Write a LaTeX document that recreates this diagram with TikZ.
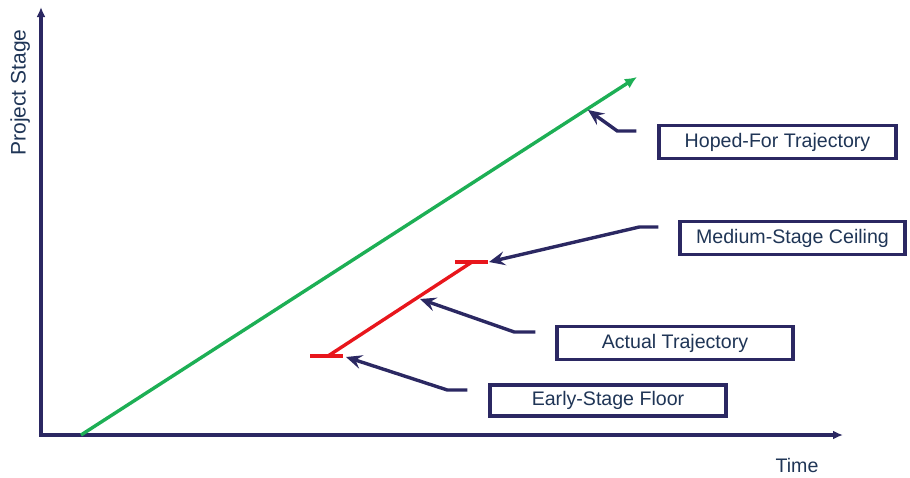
\documentclass[tikz,border=0pt]{standalone}
\usepackage{fontspec}
\setmainfont{Liberation Sans}
\usetikzlibrary{arrows.meta,calc}
\definecolor{navy}{HTML}{2B2862}
\definecolor{labeltext}{HTML}{1F3556}
\definecolor{hopegreen}{HTML}{1DAF55}
\definecolor{actualred}{HTML}{E8161C}

\begin{document}
\begin{tikzpicture}[x=1pt,y=-1pt,
  axis/.style={navy, line width=3.2pt, line join=miter},
  labelbox/.style={draw=navy, line width=3.4pt, fill=white, text=labeltext,
    font=\fontsize{19.6}{22}\selectfont, minimum height=33pt, inner sep=0pt},
  axislabel/.style={text=labeltext, inner sep=0pt},
  pointer/.style={navy, line width=3.4pt, line join=miter,
    -{Stealth[length=16pt,width=14pt,inset=6pt]}},
  trend/.style={line width=3.4pt}
]
\useasboundingbox (0,0) rectangle (910,477);

% axes
\coordinate (origin) at (41,435);
\coordinate (ytip) at (41,7);
\coordinate (xtip) at (843,435);
\draw[axis, {Latex[length=10pt,width=9pt]}-{Latex[length=10pt,width=9pt]}]
  (ytip) -- (origin) -- (xtip);
\node[axislabel, rotate=90, anchor=base, font=\fontsize{21}{24}\selectfont] (ylab) at (25.5,92.5) {Project Stage};
\node[axislabel, font=\fontsize{19.6}{22}\selectfont] (xlab) at (797,465) {Time};

% hoped-for trajectory
\coordinate (gstart) at (81,435);
\coordinate (gend) at (637,77);
\draw[trend, hopegreen, -{Latex[length=12pt,width=11pt]}] (gstart) -- (gend);

% actual trajectory with floor and ceiling
\coordinate (floorL) at (310,356);
\coordinate (floorR) at (343,356);
\coordinate (diagA) at (328,356);
\coordinate (diagB) at (472,262);
\coordinate (ceilL) at (455,262);
\coordinate (ceilR) at (488,262);
\draw[trend, actualred] (floorL) -- (floorR);
\draw[trend, actualred] (diagA) -- (diagB);
\draw[trend, actualred] (ceilL) -- (ceilR);

% label boxes
\node[labelbox, minimum width=237pt] (hoped) at (777.5,142) {Hoped-For Trajectory};
\node[labelbox, minimum width=225pt, minimum height=33pt] (medium) at (792.5,238) {Medium-Stage Ceiling};
\node[labelbox, minimum width=236pt, minimum height=33pt] (actual) at (675,343) {Actual Trajectory};
\node[labelbox, minimum width=236pt, minimum height=31pt] (early) at (608,400.5) {Early-Stage Floor};

% pointer targets
\coordinate (hopetip) at (588,110);
\coordinate (medtip) at (489,262);
\coordinate (acttip) at (420,299);
\coordinate (earlytip) at (346,357);

% pointers
\draw[pointer] ($(hoped.west)+(-21,-11)$) -- ++(-19,0) -- (hopetip);
\draw[pointer] ($(medium.west)+(-20,-11)$) -- ++(-19,0) -- (medtip);
\draw[pointer] ($(actual.west)+(-20,-11)$) -- ++(-21,0) -- (acttip);
\draw[pointer] ($(early.west)+(-21,-10.5)$) -- ++(-20,0) -- (earlytip);
\end{tikzpicture}
\end{document}
